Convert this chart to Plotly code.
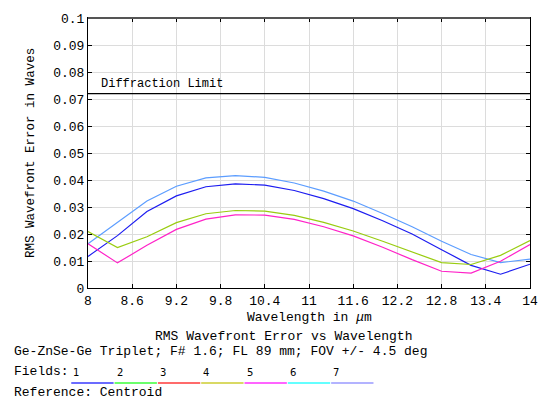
import plotly.graph_objects as go

wavelength = [8.0, 8.4, 8.8, 9.2, 9.6, 10.0, 10.4, 10.8, 11.2, 11.6, 12.0, 12.4, 12.8, 13.2, 13.6, 14.0]
field_1 = [0.0117, 0.0194, 0.0283, 0.0341, 0.0375, 0.0386, 0.0381, 0.0361, 0.0331, 0.0294,
           0.0249, 0.0200, 0.0142, 0.0084, 0.0051, 0.0088]
field_7 = [0.0164, 0.0243, 0.0322, 0.0377, 0.0408, 0.0416, 0.0410, 0.0389, 0.0359, 0.0322,
           0.0276, 0.0227, 0.0173, 0.0124, 0.0094, 0.0107]
field_2 = [0.0209, 0.0150, 0.0190, 0.0242, 0.0275, 0.0287, 0.0285, 0.0269, 0.0243, 0.0211,
           0.0173, 0.0133, 0.0094, 0.0087, 0.0121, 0.0176]
field_5 = [0.0164, 0.0093, 0.0158, 0.0217, 0.0255, 0.0271, 0.0270, 0.0254, 0.0227, 0.0193,
           0.0151, 0.0105, 0.0062, 0.0055, 0.0099, 0.0161]
diffraction_limit = 0.072

x_ticks = [8, 8.6, 9.2, 9.8, 10.4, 11, 11.6, 12.2, 12.8, 13.4, 14]
x_tick_text = ["8", "8.6", "9.2", "9.8", "10.4", "11", "11.6", "12.2", "12.8", "13.4", "14"]
field_labels = ["1", "2", "3", "4", "5", "6", "7"]
field_colors = ["#3a3aff", "#3aff3a", "#ff3a3a", "#cccc30", "#ff30ff", "#30ffff", "#9a9aff"]

MONO = "Liberation Mono, Courier New, monospace"

W, H = 550, 402
L, R, T, B = 88, 13, 15, 114
PW, PH = W - L - R, H - T - B


def px(x):
    return (x - L) / PW


def py(y):
    return (H - B - y) / PH


fig = go.Figure()
series = [
    (field_7, "#5c9dff"),
    (field_1, "#1c1cf0"),
    (field_2, "#99cc10"),
    (field_5, "#ff22c8"),
]
for vals, col in series:
    fig.add_trace(go.Scatter(x=wavelength, y=vals, mode="lines",
                             line=dict(color=col, width=1.2), showlegend=False,
                             hoverinfo="skip"))

fig.add_trace(go.Scatter(x=[8, 14], y=[diffraction_limit, diffraction_limit], mode="lines",
                         line=dict(color="black", width=1.2), showlegend=False, hoverinfo="skip"))

annotations = [
    dict(x=8.15, y=diffraction_limit, xref="x", yref="y", text="Diffraction Limit",
         xanchor="left", yanchor="bottom", showarrow=False, yshift=1,
         font=dict(family=MONO, size=12, color="black")),
    dict(x=px(312.5), y=py(317.5), text="Wavelength in <i>μ</i>m", xanchor="center", yanchor="middle",
         font=dict(family=MONO, size=13, color="black")),
    dict(x=px(154), y=py(336.7), text="RMS Wavefront Error vs Wavelength", xanchor="left", yanchor="middle",
         font=dict(family=MONO, size=13, color="black")),
    dict(x=px(11), y=py(352.3), text="Ge-ZnSe-Ge Triplet; F# 1.6; FL 89 mm; FOV +/- 4.5 deg",
         xanchor="left", yanchor="middle", font=dict(family=MONO, size=13, color="black")),
    dict(x=px(11), y=py(372.5), text="Fields:", xanchor="left", yanchor="middle",
         font=dict(family=MONO, size=13, color="black")),
    dict(x=px(11), y=py(393.3), text="Reference: Centroid", xanchor="left", yanchor="middle",
         font=dict(family=MONO, size=13, color="black")),
    dict(x=px(30), y=py(151.5), text="RMS Wavefront Error in Waves", textangle=-90,
         xanchor="center", yanchor="middle", font=dict(family=MONO, size=12.5, color="black")),
]
shapes = [dict(type="line", xref="paper", yref="paper", x0=0, x1=1, y0=1, y1=1,
               line=dict(color="#555555", width=2))]
for i, (lab, col) in enumerate(zip(field_labels, field_colors)):
    x0 = 71 + 44 * i
    annotations.append(dict(x=px(x0), y=py(373), text=lab, xanchor="left", yanchor="middle",
                            font=dict(family="DejaVu Sans, Arial", size=10, color="black")))
    shapes.append(dict(type="line", xref="paper", yref="paper", x0=px(x0), x1=px(x0 + 43),
                       y0=py(384), y1=py(384), line=dict(color=col, width=1.5)))

for a in annotations:
    a.setdefault("xref", "paper")
    a.setdefault("yref", "paper")
    a["showarrow"] = False

fig.update_layout(
    width=W, height=H,
    margin=dict(l=L, r=R, t=T, b=B),
    paper_bgcolor="white", plot_bgcolor="white",
    annotations=annotations, shapes=shapes,
    font=dict(family=MONO, size=13, color="black"),
)
fig.update_xaxes(range=[8, 14], tickvals=x_ticks, ticktext=x_tick_text,
                 showgrid=True, gridcolor="#dcdcdc", gridwidth=1,
                 showline=True, linecolor="black", linewidth=1, mirror="ticks",
                 ticks="inside", ticklen=4, tickcolor="black",
                 tickfont=dict(family=MONO, size=13, color="black"), zeroline=False)
fig.update_yaxes(range=[0, 0.1], dtick=0.01, tick0=0,
                 showgrid=True, gridcolor="#dcdcdc", gridwidth=1,
                 showline=True, linecolor="black", linewidth=1, mirror="ticks",
                 ticks="inside", ticklen=4, tickcolor="black",
                 tickfont=dict(family=MONO, size=13, color="black"), zeroline=False)

fig.write_html("out.html")
